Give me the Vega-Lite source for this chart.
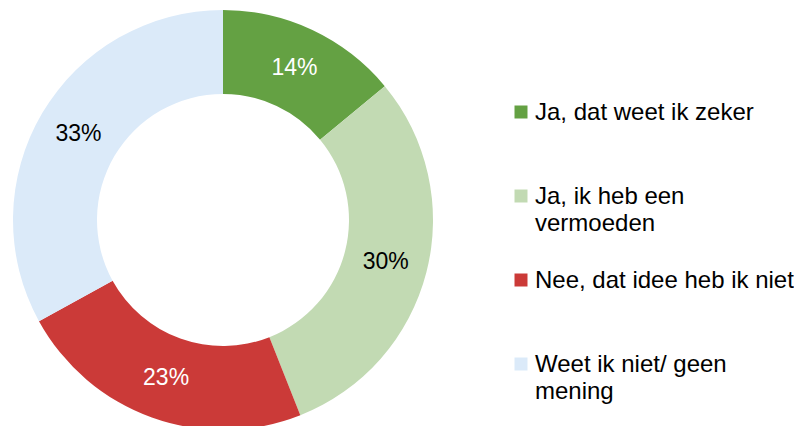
{
  "$schema": "https://vega.github.io/schema/vega-lite/v6.json",
  "width": 446,
  "height": 416,
  "padding": {"left": 0, "top": 10, "right": 0, "bottom": 0},
  "autosize": {"type": "pad"},
  "background": "white",
  "view": {"stroke": null},
  "data": {"values": [
    {"cat": "Ja, dat weet ik zeker", "pct": 0.14, "idx": 1},
    {"cat": "Ja, ik heb een vermoeden", "pct": 0.30, "idx": 2},
    {"cat": "Nee, dat idee heb ik niet", "pct": 0.23, "idx": 3},
    {"cat": "Weet ik niet/ geen mening", "pct": 0.33, "idx": 4}
  ]},
  "encoding": {
    "theta": {"field": "pct", "type": "quantitative", "stack": true},
    "order": {"field": "idx", "type": "quantitative"}
  },
  "layer": [
    {
      "mark": {"type": "arc", "outerRadius": 210, "innerRadius": 126},
      "encoding": {
        "color": {
          "field": "cat", "type": "nominal",
          "scale": {
            "domain": ["Ja, dat weet ik zeker", "Ja, ik heb een vermoeden", "Nee, dat idee heb ik niet", "Weet ik niet/ geen mening"],
            "range": ["#64a143", "#c2dab3", "#cb3a38", "#dbeaf9"]
          },
          "legend": {
            "orient": "none",
            "legendX": 509,
            "legendY": 88,
            "title": null,
            "direction": "vertical",
            "symbolType": "square",
            "symbolSize": 169,
            "symbolStrokeWidth": 0,
            "symbolOpacity": 1,
            "labelFont": "Liberation Sans",
            "labelFontSize": 24,
            "labelColor": "black",
            "labelOffset": 2,
            "labelLimit": 400,
            "labelBaseline": "top",
            "gridAlign": "all",
            "rowPadding": 32,
            "labelExpr": "datum.label == 'Ja, ik heb een vermoeden' ? ['Ja, ik heb een', 'vermoeden'] : datum.label == 'Weet ik niet/ geen mening' ? ['Weet ik niet/ geen', 'mening'] : datum.label",
            "encode": {
              "labels": {"update": {"dy": {"value": -11}, "lineHeight": {"value": 27}}}
            }
          }
        }
      }
    },
    {
      "mark": {"type": "text", "radius": 168, "font": "Liberation Sans", "fontSize": 23},
      "encoding": {
        "text": {"field": "pct", "type": "quantitative", "format": ".0%"},
        "color": {
          "condition": {"test": "datum.idx == 1 || datum.idx == 3", "value": "white"},
          "value": "black"
        }
      }
    }
  ]
}
